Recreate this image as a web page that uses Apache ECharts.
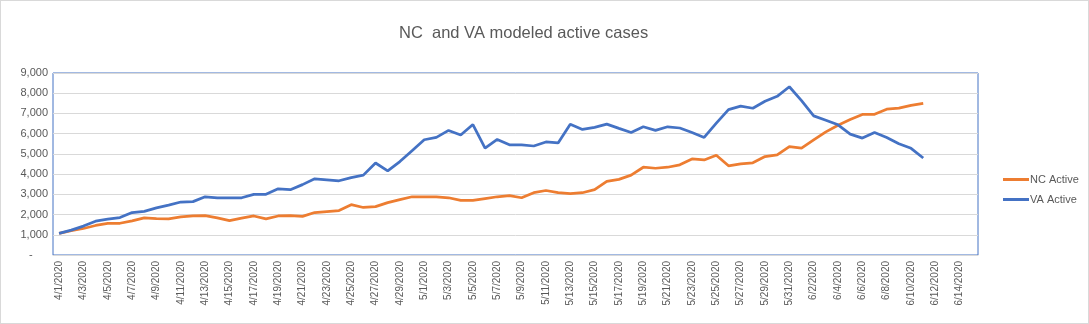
<!DOCTYPE html>
<html>
<head>
<meta charset="utf-8">
<script src="https://cdn.jsdelivr.net/npm/echarts@6/dist/echarts.min.js"></script>
<style>
html,body{margin:0;padding:0;background:#fff;}
#c{width:1087px;height:322px;border:1px solid #d9d9d9;}
</style>
</head>
<body>
<div id="c"></div>
<script>
// Categories: daily dates 4/1/2020 .. 6/15/2020
var categories = [];
(function(){
  var months = [[4,30],[5,31],[6,15]];
  months.forEach(function(m){
    for (var d = 1; d <= m[1]; d++) categories.push(m[0] + '/' + d + '/2020');
  });
})();

var ncActive = [1070,1200,1310,1460,1560,1570,1690,1840,1800,1790,1880,1930,1950,1840,1700,1820,1930,1790,1930,1950,
  1910,2100,2150,2200,2490,2350,2390,2590,2740,2880,2880,2880,2830,2700,2700,2790,2880,2940,2830,3080,
  3190,3080,3030,3080,3230,3640,3740,3950,4340,4290,4340,4460,4750,4700,4930,4410,4510,4560,4870,4950,
  5360,5290,5690,6090,6420,6700,6950,6960,7210,7260,7400,7500];

var vaActive = [1070,1230,1430,1670,1770,1850,2100,2160,2330,2470,2620,2640,2880,2830,2830,2830,3000,3000,3275,3230,
  3480,3770,3720,3670,3830,3950,4550,4160,4620,5160,5700,5815,6160,5930,6450,5290,5717,5450,5440,5390,
  5590,5540,6470,6210,6310,6470,6260,6060,6340,6160,6340,6280,6060,5815,6520,7190,7360,7256,7600,7846,
  8321,7633,6880,6667,6437,5978,5782,6060,5815,5504,5275,4799];

var yTicks = {min:0, max:9000, interval:1000};

var chart = echarts.init(document.getElementById('c'));
var font = 'Liberation Sans, Arial, sans-serif';
chart.setOption({
  animation:false,
  textStyle:{fontFamily:font},
  title:{
    text:'NC  and VA modeled active cases',
    left:393, top:19,
    textStyle:{fontSize:16.5, fontWeight:'normal', color:'#595959', fontFamily:font}
  },
  grid:{left:52, right:110, top:72, bottom:68, show:true, borderColor:'#4472C4', borderWidth:1, containLabel:false},
  legend:{
    orient:'vertical', left:997, top:168, itemGap:9,
    icon:'rect', itemWidth:26, itemHeight:3,
    textStyle:{fontSize:11, color:'#595959', fontFamily:font, padding:[0,0,0,-4]},
    data:['NC Active','VA Active']
  },
  xAxis:{
    type:'category', data:categories, boundaryGap:true,
    axisLine:{show:true, lineStyle:{color:'#d9d9d9'}},
    axisTick:{show:false},
    axisLabel:{rotate:90, interval:1, fontSize:10, color:'#595959', margin:6},
    splitLine:{show:false}
  },
  yAxis:{
    type:'value', min:yTicks.min, max:yTicks.max, interval:yTicks.interval,
    axisLine:{show:false}, axisTick:{show:false},
    axisLabel:{fontSize:11, color:'#595959', margin:5,
      formatter:function(v){ return v === 0 ? '-     ' : v.toLocaleString('en-US'); }},
    splitLine:{lineStyle:{color:'#d9d9d9', width:1}}
  },
  series:[
    {name:'NC Active', type:'line', data:ncActive, symbol:'none', showSymbol:false,
      lineStyle:{color:'#ED7D31', width:2.75}, itemStyle:{color:'#ED7D31'}},
    {name:'VA Active', type:'line', data:vaActive, symbol:'none', showSymbol:false,
      lineStyle:{color:'#4472C4', width:2.75}, itemStyle:{color:'#4472C4'}}
  ]
});
</script>
</body>
</html>
